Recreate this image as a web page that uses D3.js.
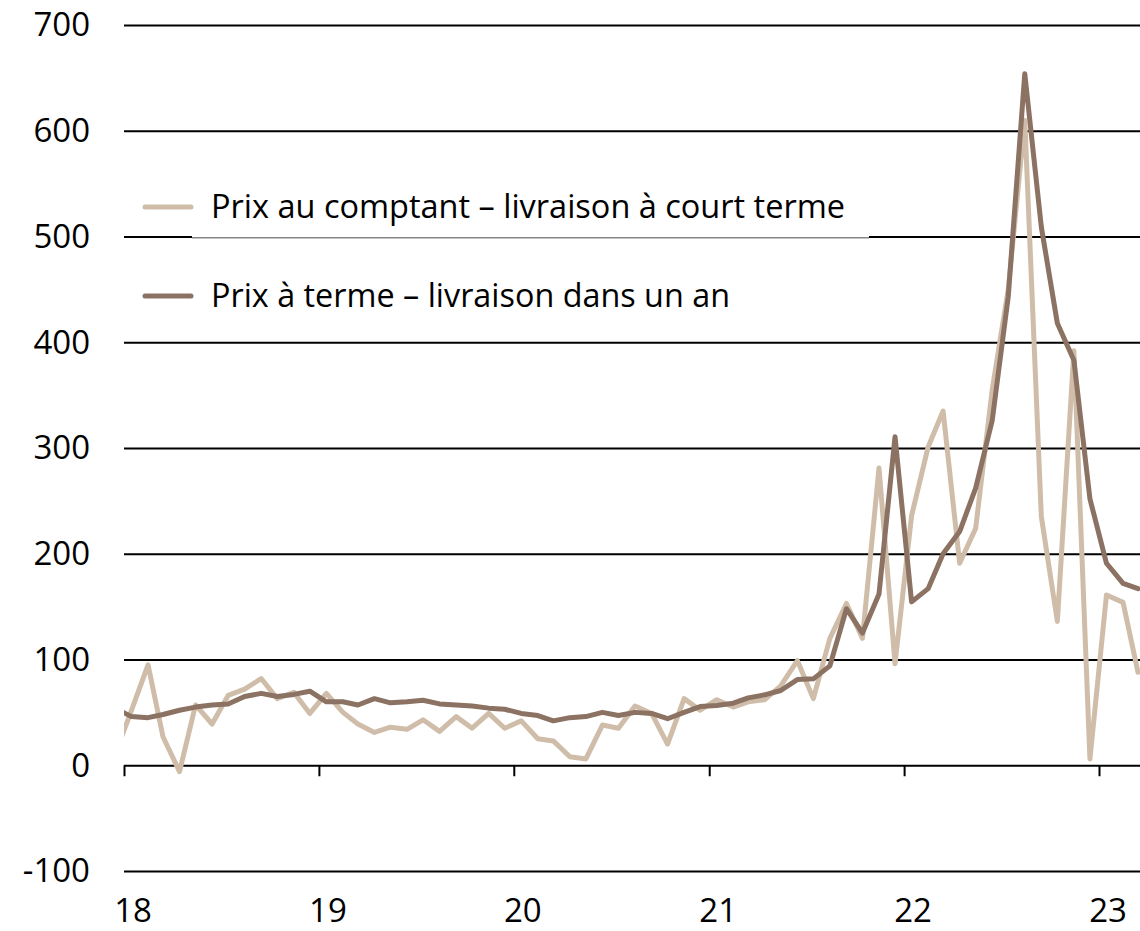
<!DOCTYPE html>
<html>
<head>
<meta charset="utf-8">
<script src="https://cdn.jsdelivr.net/npm/d3@7"></script>
<style>
  html, body { margin: 0; padding: 0; background: #fff; }
  svg { display: block; font-family: "Open Sans", sans-serif; }
</style>
</head>
<body>
<svg id="chart" width="1140" height="931"></svg>
<script>
// ---- Data (monthly, Dec 2017 – Mar 2023) ----
const months = [
  "2017-12",
  "2018-01","2018-02","2018-03","2018-04","2018-05","2018-06","2018-07","2018-08","2018-09","2018-10","2018-11","2018-12",
  "2019-01","2019-02","2019-03","2019-04","2019-05","2019-06","2019-07","2019-08","2019-09","2019-10","2019-11","2019-12",
  "2020-01","2020-02","2020-03","2020-04","2020-05","2020-06","2020-07","2020-08","2020-09","2020-10","2020-11","2020-12",
  "2021-01","2021-02","2021-03","2021-04","2021-05","2021-06","2021-07","2021-08","2021-09","2021-10","2021-11","2021-12",
  "2022-01","2022-02","2022-03","2022-04","2022-05","2022-06","2022-07","2022-08","2022-09","2022-10","2022-11","2022-12",
  "2023-01","2023-02","2023-03"
];
const spotPrice = [
  10,
  52, 95, 27, -6, 57, 39, 66, 72, 82, 63, 69, 49,
  68, 50, 39, 31, 36, 34, 43, 32, 46, 35, 49, 35,
  42, 25, 23, 8, 6, 38, 35, 56, 49, 20, 63, 52,
  62, 55, 60, 62, 75, 99, 63, 120, 153, 120, 281, 96,
  236, 301, 335, 191, 224, 355, 450, 610, 235, 136, 392, 6,
  161, 154, 88
];
const forwardPrice = [
  54,
  46, 45, 48, 52, 55, 57, 58, 65, 68, 65, 67, 70,
  60, 60, 57, 63, 59, 60, 61.5, 58, 57, 56, 54, 53,
  49, 47, 42, 45, 46, 50, 47, 50, 49, 44, 50, 55.5,
  56.5, 58.7, 63.7, 66.6, 70.7, 81, 81.7, 94, 148, 125, 162, 310.6,
  154.5, 167, 200, 221, 262, 326, 443, 654, 509, 418, 383, 252,
  191, 172, 167
];
const seriesNames = ["Prix au comptant – livraison à court terme", "Prix à terme – livraison dans un an"];
const seriesColors = ["#CFBDAA", "#8B7262"];
const yTicks = [-100, 0, 100, 200, 300, 400, 500, 600, 700];
const yTickLabels = ["-100", "0", "100", "200", "300", "400", "500", "600", "700"];
const xTickYears = [2018, 2019, 2020, 2021, 2022, 2023];
const xTickLabels = ["18", "19", "20", "21", "22", "23"];

// ---- Layout ----
const svg = d3.select("#chart");
const left = 124, right = 1140;
const parse = d3.timeParse("%Y-%m");
const dates = months.map(m => { const d = parse(m); d.setDate(15); return d; });

const x = d3.scaleTime()
  .domain([new Date(2018, 0, 1), new Date(2023, 0, 1)])
  .range([124, 1099]);
const y = d3.scaleLinear().domain([-100, 700]).range([871, 25]);

// clip
svg.append("defs").append("clipPath").attr("id", "plotclip")
  .append("rect").attr("x", left).attr("y", 0).attr("width", right - left).attr("height", 931);

// gridlines + y labels
const yAxis = d3.axisLeft(y).tickValues(yTicks).tickSize(-(right - left))
  .tickFormat((d, i) => yTickLabels[i]);
const gy = svg.append("g").attr("transform", `translate(${left},0)`).call(yAxis);
gy.select(".domain").remove();
gy.selectAll(".tick line").attr("stroke", "#000").attr("stroke-width", 2);
gy.selectAll(".tick text")
  .attr("x", -34).attr("dy", "0.33em")
  .attr("font-size", 33).attr("fill", "#000")
  .attr("font-family", "'Open Sans', sans-serif");

// x ticks on zero line
const xAxis = d3.axisBottom(x)
  .tickValues(xTickYears.map(yr => new Date(yr, 0, 1)))
  .tickSize(11).tickFormat("");
const gx = svg.append("g").attr("transform", `translate(0,${y(0)})`).call(xAxis);
gx.select(".domain").remove();
gx.selectAll(".tick line").attr("stroke", "#000").attr("stroke-width", 2);

// x labels at bottom
svg.append("g").selectAll("text").data(xTickYears).join("text")
  .attr("x", d => x(new Date(d, 0, 1)) + 9)
  .attr("y", 922)
  .attr("text-anchor", "middle")
  .attr("font-size", 33)
  .attr("fill", "#000")
  .text((d, i) => xTickLabels[i]);

// legend background box (covers gridline 500)
svg.append("rect").attr("x", 192).attr("y", 180).attr("width", 677).attr("height", 57.5).attr("fill", "#fff");
svg.append("line").attr("x1", 192).attr("x2", 869).attr("y1", 238).attr("y2", 238)
  .attr("stroke", "#8a8a8a").attr("stroke-width", 1);

// lines
const plot = svg.append("g").attr("clip-path", "url(#plotclip)");
const line = d3.line().x((d, i) => x(dates[i])).y(d => y(d)).curve(d3.curveLinear);
[spotPrice, forwardPrice].forEach((vals, k) => {
  plot.append("path")
    .datum(vals)
    .attr("d", line)
    .attr("fill", "none")
    .attr("stroke", seriesColors[k])
    .attr("stroke-width", 5)
    .attr("stroke-linejoin", "round")
    .attr("stroke-linecap", "round");
});

// legend
const legY = [207, 296];
const legTextLen = [634, 519];
const leg = svg.append("g");
seriesNames.forEach((name, k) => {
  leg.append("line")
    .attr("x1", 145).attr("x2", 191)
    .attr("y1", legY[k]).attr("y2", legY[k])
    .attr("stroke", seriesColors[k]).attr("stroke-width", 5).attr("stroke-linecap", "round");
  leg.append("text")
    .attr("x", 211).attr("y", legY[k] + 11)
    .attr("font-size", 32)
    .attr("fill", "#000")
    .attr("textLength", legTextLen[k])
    .attr("lengthAdjust", "spacingAndGlyphs")
    .text(name);
});
</script>
</body>
</html>
